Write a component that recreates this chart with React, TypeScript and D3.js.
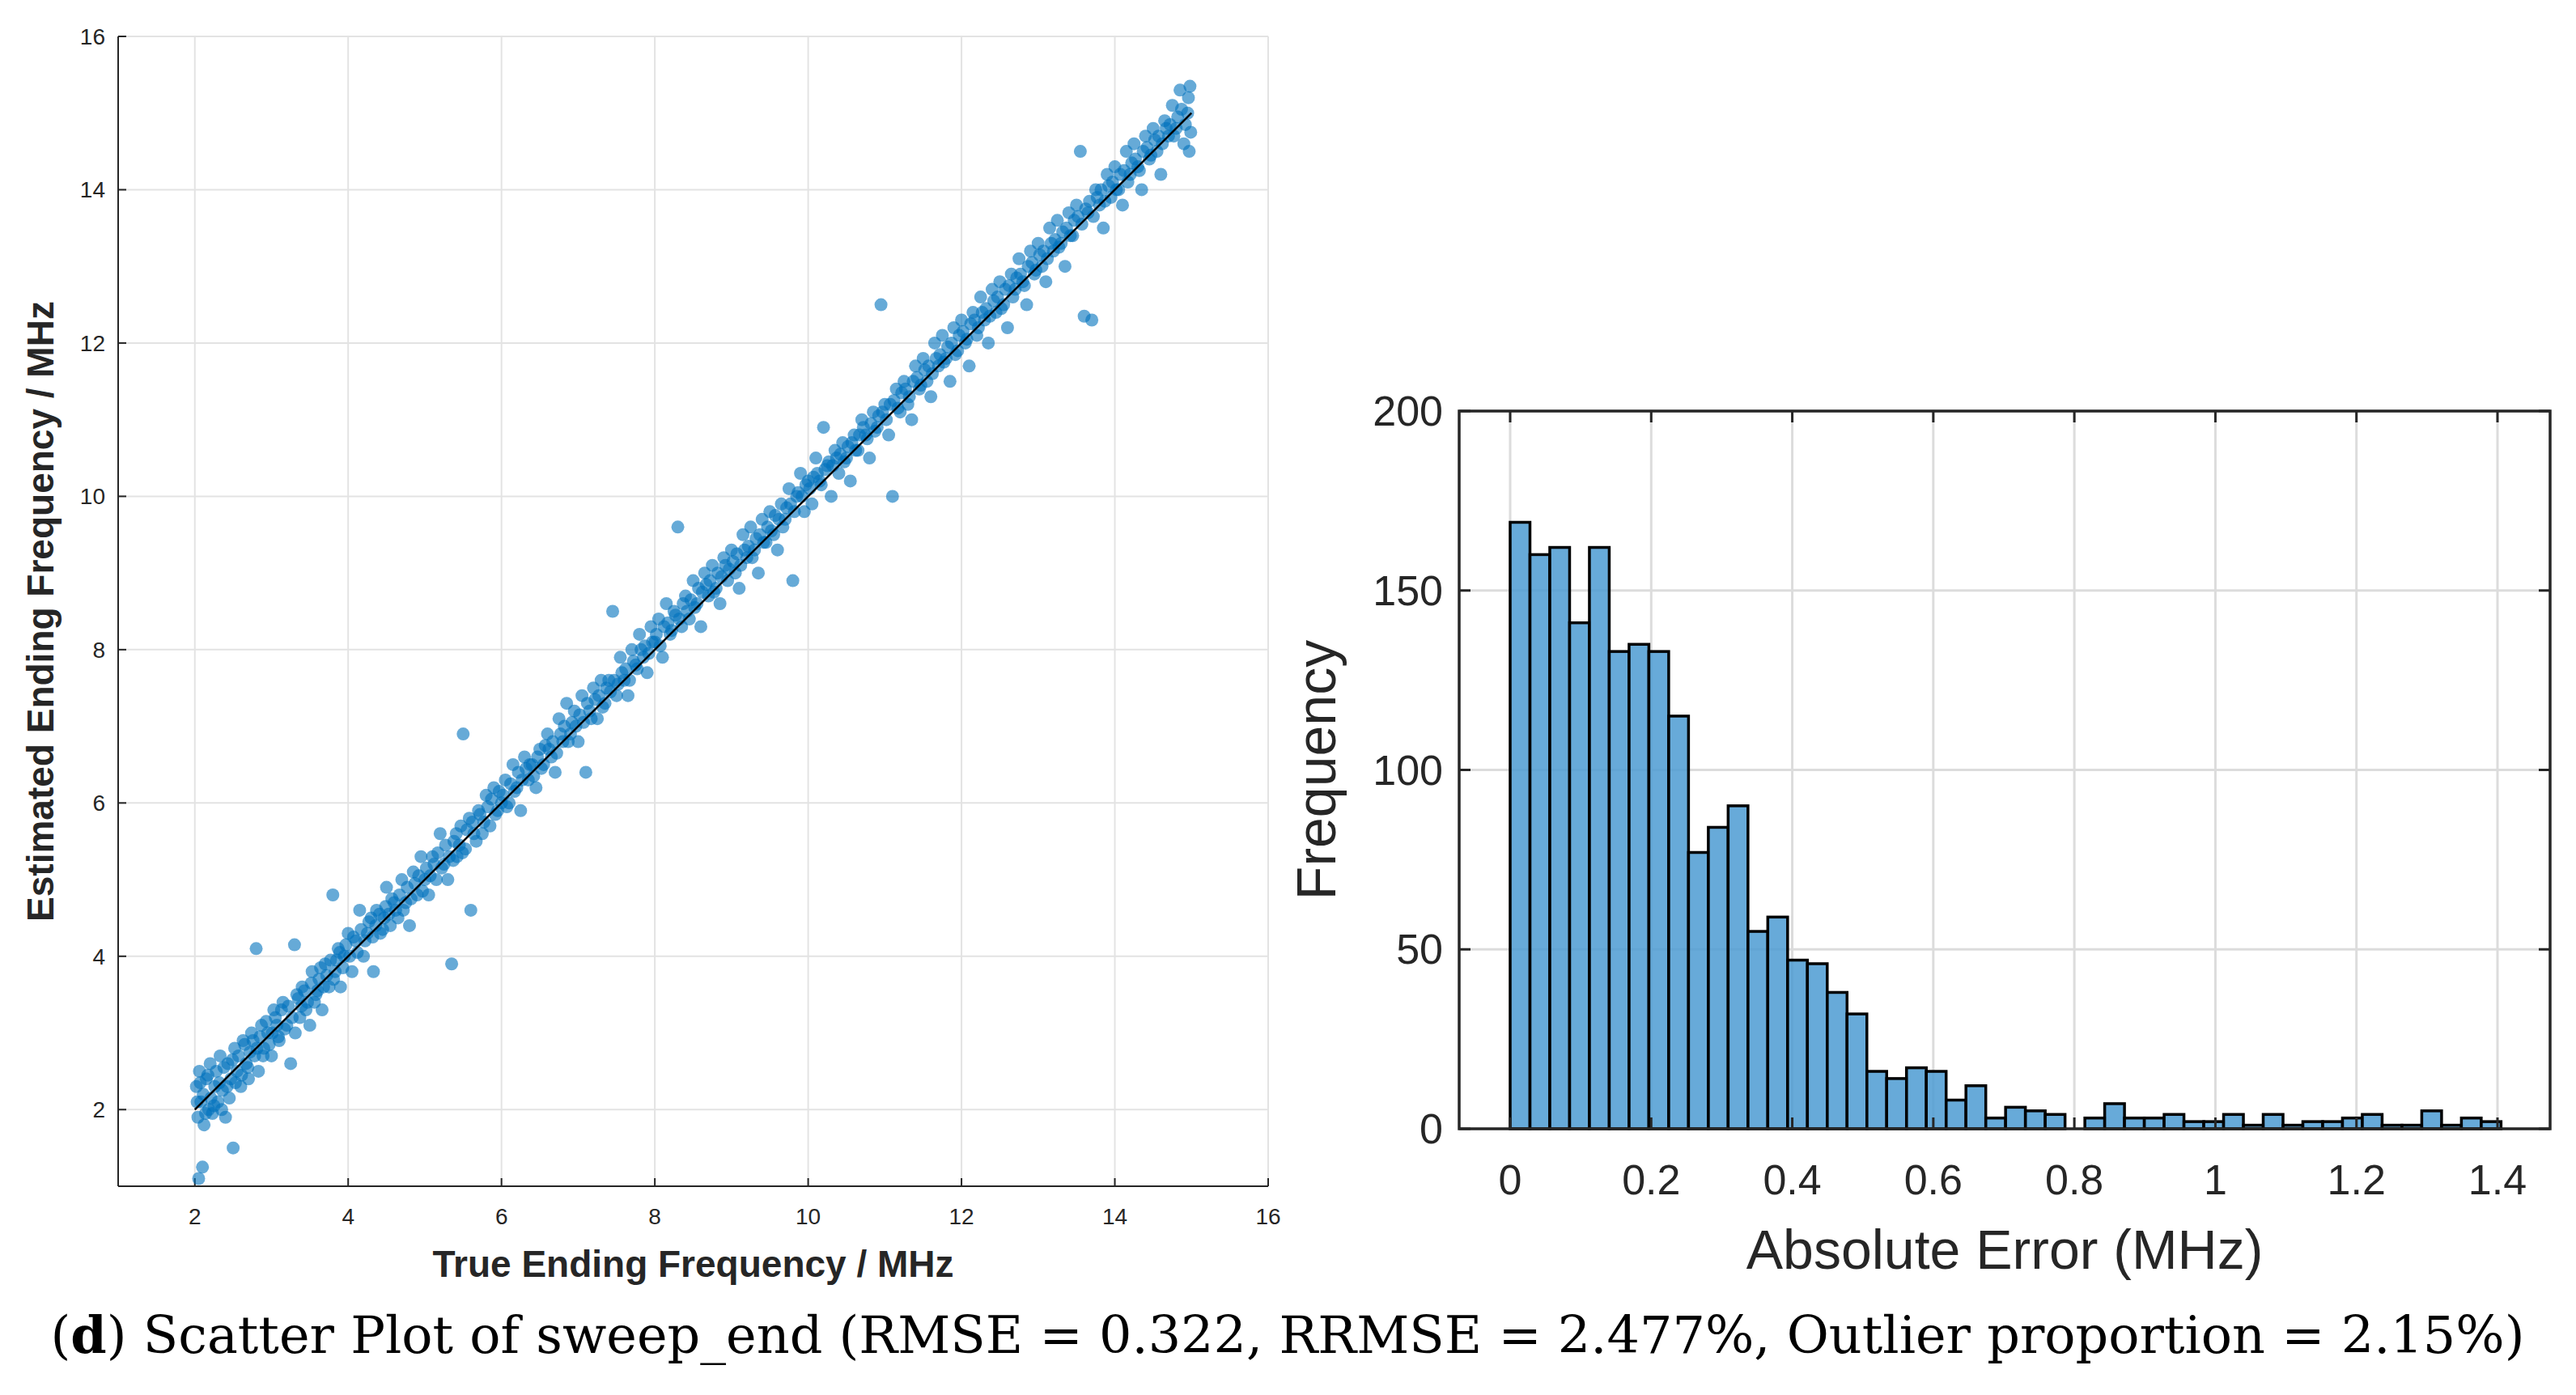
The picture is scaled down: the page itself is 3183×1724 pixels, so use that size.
import React from "react";
import * as d3 from "d3";

const scatterPts: [number, number][] = [
[2.02,2.3],[2.04,1.9],[2.05,1.1],[2.06,2.5],[2.08,2.1],[2.1,1.25],[2.12,1.8],[2.15,2.4],[2.18,2.0],[2.2,2.6],[2.23,1.95],[2.26,2.3],[2.3,2.1],[2.33,2.7],[2.36,2.25],[2.4,1.9],[2.43,2.6],[2.47,2.4],[2.5,1.5],[2.52,2.8],[2.55,2.5],[2.6,2.3],[2.63,2.9],[2.67,2.6],[2.7,2.4],[2.74,3.0],[2.78,2.7],[2.8,4.1],[2.83,2.5],[2.87,3.1],[2.9,2.8],[2.95,3.0],[3.0,2.7],[3.03,3.3],[3.07,3.1],[3.1,2.9],[3.15,3.4],[3.2,3.1],[3.25,2.6],[3.3,4.15],[3.33,3.5],[3.37,3.2],[3.4,3.6],[3.45,3.3],[3.5,3.1],[3.53,3.8],[3.58,3.5],[3.62,3.7],[3.66,3.3],[3.7,3.9],[3.75,3.6],[3.8,4.8],[3.83,3.8],[3.87,4.1],[3.9,3.6],[3.95,4.0],[4.0,4.3],[4.05,3.8],[4.1,4.2],[4.15,4.6],[4.2,4.0],[4.25,4.3],[4.3,4.5],[4.33,3.8],[4.37,4.6],[4.42,4.3],[4.47,4.5],[4.5,4.9],[4.55,4.4],[4.6,4.7],[4.65,4.5],[4.7,5.0],[4.75,4.7],[4.8,4.4],[4.85,5.1],[4.9,4.8],[4.95,5.3],[5.0,5.0],[5.05,4.8],[5.1,5.3],[5.15,5.0],[5.2,5.6],[5.25,5.2],[5.3,5.0],[5.35,3.9],[5.38,5.5],[5.42,5.3],[5.47,5.7],[5.5,6.9],[5.53,5.4],[5.58,5.8],[5.6,4.6],[5.64,5.6],[5.7,5.9],[5.75,5.6],[5.8,6.1],[5.85,5.7],[5.9,6.2],[5.95,5.9],[6.0,6.0],[6.05,6.3],[6.1,6.0],[6.15,6.5],[6.2,6.2],[6.25,5.9],[6.3,6.6],[6.35,6.3],[6.4,6.5],[6.45,6.2],[6.5,6.7],[6.55,6.5],[6.6,6.9],[6.65,6.6],[6.7,6.4],[6.75,7.1],[6.8,6.8],[6.85,7.3],[6.9,6.9],[6.95,7.2],[7.0,6.8],[7.05,7.4],[7.1,6.4],[7.15,7.2],[7.2,7.5],[7.25,7.1],[7.3,7.6],[7.35,7.3],[7.4,7.6],[7.45,8.5],[7.5,7.4],[7.55,7.9],[7.6,7.6],[7.65,7.4],[7.7,8.0],[7.75,7.8],[7.8,8.2],[7.85,7.9],[7.9,7.7],[7.95,8.3],[8.0,8.1],[8.05,8.4],[8.1,7.9],[8.15,8.6],[8.2,8.2],[8.25,8.5],[8.3,9.6],[8.35,8.3],[8.4,8.7],[8.45,8.4],[8.5,8.9],[8.55,8.6],[8.6,8.3],[8.65,9.0],[8.7,8.7],[8.75,9.1],[8.8,8.8],[8.85,8.6],[8.9,9.2],[8.95,8.9],[9.0,9.3],[9.05,9.0],[9.1,8.8],[9.15,9.5],[9.2,9.2],[9.25,9.6],[9.3,9.3],[9.35,9.0],[9.4,9.7],[9.45,9.4],[9.5,9.8],[9.55,9.5],[9.6,9.3],[9.65,9.9],[9.7,9.7],[9.75,10.1],[9.8,8.9],[9.85,10.0],[9.9,10.3],[9.95,9.8],[10.0,10.2],[10.05,9.9],[10.1,10.5],[10.15,10.2],[10.2,10.9],[10.25,10.4],[10.3,10.0],[10.35,10.6],[10.4,10.3],[10.45,10.7],[10.5,10.5],[10.55,10.2],[10.6,10.8],[10.65,10.6],[10.7,11.0],[10.75,10.8],[10.8,10.5],[10.85,11.1],[10.9,10.9],[10.95,12.5],[11.0,11.2],[11.05,10.8],[11.1,10.0],[11.15,11.4],[11.2,11.1],[11.25,11.5],[11.3,11.2],[11.35,11.0],[11.4,11.7],[11.45,11.4],[11.5,11.8],[11.55,11.5],[11.6,11.3],[11.65,12.0],[11.7,11.7],[11.75,12.1],[11.8,11.8],[11.85,11.5],[11.9,12.2],[11.95,11.9],[12.0,12.3],[12.05,12.0],[12.1,11.7],[12.15,12.4],[12.2,12.1],[12.25,12.6],[12.3,12.3],[12.35,12.0],[12.4,12.7],[12.45,12.4],[12.5,12.8],[12.55,12.5],[12.6,12.2],[12.65,12.9],[12.7,12.7],[12.75,13.1],[12.8,12.8],[12.85,12.5],[12.9,13.2],[12.95,12.9],[13.0,13.3],[13.05,13.0],[13.1,12.8],[13.15,13.5],[13.2,13.2],[13.25,13.6],[13.3,13.3],[13.35,13.0],[13.4,13.7],[13.45,13.4],[13.5,13.8],[13.55,14.5],[13.6,12.35],[13.65,13.7],[13.7,12.3],[13.75,14.0],[13.8,13.8],[13.85,13.5],[13.9,14.2],[13.95,13.9],[14.0,14.3],[14.05,14.0],[14.1,13.8],[14.15,14.5],[14.2,14.2],[14.25,14.6],[14.3,14.3],[14.35,14.0],[14.4,14.7],[14.45,14.4],[14.5,14.8],[14.55,14.5],[14.6,14.2],[14.65,14.9],[14.7,14.7],[14.75,15.1],[14.8,14.8],[14.85,15.3],[14.9,14.6],[14.95,15.0],[14.98,15.35],[14.97,14.5]
];
const scatterPts2: [number, number][] = [
[2.03,2.1],[2.07,2.35],[2.11,2.2],[2.14,1.95],[2.17,2.45],[2.21,2.15],[2.25,2.05],[2.28,2.5],[2.32,2.35],[2.35,2.0],[2.38,2.55],[2.42,2.3],[2.45,2.15],[2.49,2.65],[2.53,2.35],[2.57,2.7],[2.61,2.45],[2.65,2.85],[2.69,2.55],[2.72,2.75],[2.76,2.9],[2.81,2.8],[2.85,2.95],[2.89,2.7],[2.93,3.15],[2.97,2.85],[3.01,3.0],[3.05,3.2],[3.09,2.95],[3.13,3.3],[3.17,3.05],[3.22,3.35],[3.27,3.2],[3.31,3.0],[3.35,3.45],[3.39,3.35],[3.43,3.55],[3.47,3.4],[3.52,3.65],[3.56,3.4],[3.6,3.55],[3.64,3.85],[3.68,3.6],[3.72,3.75],[3.77,3.95],[3.81,3.7],[3.85,3.95],[3.89,4.05],[3.93,3.85],[3.97,4.15],[4.02,4.0],[4.07,4.25],[4.12,4.05],[4.17,4.35],[4.22,4.2],[4.27,4.45],[4.32,4.25],[4.36,4.4],[4.41,4.55],[4.45,4.35],[4.49,4.65],[4.53,4.55],[4.57,4.75],[4.62,4.6],[4.67,4.8],[4.72,4.6],[4.77,4.9],[4.82,4.75],[4.87,4.95],[4.92,5.05],[4.97,4.85],[5.02,5.15],[5.07,5.05],[5.12,5.2],[5.17,5.35],[5.22,5.15],[5.27,5.45],[5.32,5.3],[5.37,5.25],[5.41,5.6],[5.45,5.45],[5.49,5.35],[5.55,5.65],[5.62,5.75],[5.67,5.5],[5.72,5.85],[5.77,5.75],[5.82,5.95],[5.87,6.05],[5.92,5.85],[5.97,6.15],[6.02,6.1],[6.07,5.95],[6.12,6.25],[6.17,6.15],[6.22,6.4],[6.27,6.3],[6.32,6.45],[6.37,6.5],[6.42,6.35],[6.47,6.6],[6.52,6.45],[6.57,6.75],[6.62,6.7],[6.67,6.8],[6.72,6.65],[6.77,6.9],[6.82,7.0],[6.87,6.8],[6.92,7.05],[6.97,7.0],[7.02,7.15],[7.07,7.05],[7.12,7.3],[7.17,7.1],[7.22,7.35],[7.27,7.4],[7.32,7.25],[7.37,7.5],[7.42,7.45],[7.47,7.6],[7.52,7.55],[7.57,7.7],[7.62,7.75],[7.67,7.6],[7.72,7.85],[7.77,7.75],[7.82,8.0],[7.87,8.05],[7.92,7.95],[7.97,8.1],[8.02,8.2],[8.07,8.05],[8.12,8.3],[8.17,8.35],[8.22,8.25],[8.27,8.45],[8.32,8.4],[8.37,8.6],[8.42,8.5],[8.47,8.65],[8.52,8.55],[8.57,8.8],[8.62,8.75],[8.67,8.85],[8.72,8.9],[8.77,8.75],[8.82,9.0],[8.87,8.95],[8.92,9.1],[8.97,9.05],[9.02,9.15],[9.07,9.25],[9.12,9.1],[9.17,9.3],[9.22,9.35],[9.27,9.2],[9.32,9.45],[9.37,9.5],[9.42,9.4],[9.47,9.6],[9.52,9.55],[9.57,9.75],[9.62,9.7],[9.67,9.6],[9.72,9.85],[9.77,9.9],[9.82,9.8],[9.87,10.05],[9.92,10.0],[9.97,10.15],[10.02,10.1],[10.07,10.25],[10.12,10.3],[10.17,10.15],[10.22,10.35],[10.27,10.45],[10.32,10.4],[10.37,10.5],[10.42,10.55],[10.47,10.45],[10.52,10.65],[10.57,10.7],[10.62,10.6],[10.67,10.8],[10.72,10.9],[10.77,10.75],[10.82,10.95],[10.87,10.85],[10.92,11.05],[10.97,11.1],[11.02,11.0],[11.07,11.2],[11.12,11.25],[11.17,11.15],[11.22,11.35],[11.27,11.4],[11.32,11.3],[11.37,11.5],[11.42,11.55],[11.47,11.45],[11.52,11.65],[11.57,11.7],[11.62,11.6],[11.67,11.8],[11.72,11.85],[11.77,11.75],[11.82,11.95],[11.87,12.0],[11.92,11.85],[11.97,12.1],[12.02,12.15],[12.07,12.05],[12.12,12.25],[12.17,12.3],[12.22,12.2],[12.27,12.4],[12.32,12.45],[12.37,12.35],[12.42,12.55],[12.47,12.6],[12.52,12.45],[12.57,12.7],[12.62,12.75],[12.67,12.6],[12.72,12.85],[12.77,12.9],[12.82,12.75],[12.87,13.0],[12.92,13.05],[12.97,12.95],[13.02,13.15],[13.07,13.2],[13.12,13.1],[13.17,13.3],[13.22,13.35],[13.27,13.25],[13.32,13.45],[13.37,13.5],[13.42,13.4],[13.47,13.6],[13.52,13.65],[13.57,13.55],[13.62,13.75],[13.67,13.85],[13.72,13.65],[13.77,13.9],[13.82,14.0],[13.87,13.85],[13.92,14.05],[13.97,14.1],[14.02,14.0],[14.07,14.2],[14.12,14.25],[14.17,14.1],[14.22,14.35],[14.27,14.4],[14.32,14.25],[14.37,14.5],[14.42,14.55],[14.47,14.45],[14.52,14.65],[14.57,14.7],[14.62,14.6],[14.67,14.8],[14.72,14.85],[14.77,14.7],[14.82,14.95],[14.87,15.05],[14.92,14.85],[14.96,15.2],[14.99,14.75]
];
const scatterTicks = [2, 4, 6, 8, 10, 12, 14, 16];
const histCounts = [169,160,162,141,162,133,135,133,115,77,84,90,55,59,47,46,38,32,16,14,17,16,8,12,3,6,5,4,0,3,7,3,3,4,2,2,4,1,4,1,2,2,3,4,1,1,5,1,3,2];
const binWidth = 0.0281;
const histXTicks = [0, 0.2, 0.4, 0.6, 0.8, 1, 1.2, 1.4];
const histYTicks = [0, 50, 100, 150, 200];

export default function App() {
  const sx = d3.scaleLinear().domain([1, 16]).range([146, 1567]);
  const sy = d3.scaleLinear().domain([1, 16]).range([1466, 45]);
  const hx = d3.scaleLinear().domain([0, 1.4]).range([1866, 3086]);
  const hy = d3.scaleLinear().domain([0, 200]).range([1395, 508]);
  const hL = 1803, hR = 3151;
  const fs = "Arial, 'Liberation Sans', sans-serif";
  const allPts = scatterPts.concat(scatterPts2);
  return (
    <svg width={3183} height={1724} style={{ display: "block", position: "absolute", left: 0, top: 0 }}>
      <rect width={3183} height={1724} fill="#fff" />
      {scatterTicks.map(t => (
        <g key={"g" + t}>
          <line x1={sx(t)} x2={sx(t)} y1={45} y2={1466} stroke="#e3e3e3" strokeWidth={2} />
          <line x1={146} x2={1567} y1={sy(t)} y2={sy(t)} stroke="#e3e3e3" strokeWidth={2} />
        </g>
      ))}
      <line x1={146} x2={1567} y1={1466} y2={1466} stroke="#262626" strokeWidth={2} />
      <line x1={146} x2={146} y1={45} y2={1466} stroke="#262626" strokeWidth={2} />
      {scatterTicks.map(t => (
        <g key={"t" + t} fontFamily={fs} fontSize={28} fill="#262626">
          <line x1={sx(t)} x2={sx(t)} y1={1466} y2={1456} stroke="#262626" strokeWidth={2} />
          <line x1={146} x2={156} y1={sy(t)} y2={sy(t)} stroke="#262626" strokeWidth={2} />
          <text x={sx(t)} y={1513} textAnchor="middle">{t}</text>
          <text x={130} y={sy(t) + 10} textAnchor="end">{t}</text>
        </g>
      ))}
      {allPts.map((p, i) => (
        <circle key={i} cx={sx(p[0])} cy={sy(p[1])} r={8} fill="#0072BD" fillOpacity={0.6} />
      ))}
      <line x1={sx(2)} y1={sy(2)} x2={sx(15)} y2={sy(15)} stroke="#000" strokeWidth={2.5} />
      <text x={(146 + 1567) / 2} y={1578} textAnchor="middle" fontFamily={fs} fontWeight="bold" fontSize={46} fill="#262626">True Ending Frequency / MHz</text>
      <text transform={`translate(66,${(45 + 1466) / 2}) rotate(-90)`} textAnchor="middle" fontFamily={fs} fontWeight="bold" fontSize={46} fill="#262626">Estimated Ending Frequency / MHz</text>

      {histXTicks.map(t => (
        <line key={"hx" + t} x1={hx(t)} x2={hx(t)} y1={508} y2={1395} stroke="#dcdcdc" strokeWidth={3} />
      ))}
      {histYTicks.map(t => (
        <line key={"hy" + t} x1={hL} x2={hR} y1={hy(t)} y2={hy(t)} stroke="#dcdcdc" strokeWidth={3} />
      ))}
      {histCounts.map((c, i) => c > 0 ? (
        <rect key={"b" + i} x={hx(i * binWidth)} y={hy(c)} width={hx(binWidth) - hx(0)} height={hy(0) - hy(c)}
          fill="#4C9BD2" fillOpacity={0.85} stroke="#000" strokeWidth={3.5} />
      ) : null)}
      <rect x={hL} y={508} width={hR - hL} height={1395 - 508} fill="none" stroke="#262626" strokeWidth={3.5} />
      {histXTicks.map(t => (
        <g key={"hxt" + t}>
          <line x1={hx(t)} x2={hx(t)} y1={1395} y2={1381} stroke="#262626" strokeWidth={3} />
          <line x1={hx(t)} x2={hx(t)} y1={508} y2={522} stroke="#262626" strokeWidth={3} />
          <text x={hx(t)} y={1476} textAnchor="middle" fontFamily={fs} fontSize={52} fill="#262626">{t}</text>
        </g>
      ))}
      {histYTicks.map(t => (
        <g key={"hyt" + t}>
          <line x1={hL} x2={hL + 14} y1={hy(t)} y2={hy(t)} stroke="#262626" strokeWidth={3} />
          <line x1={hR} x2={hR - 14} y1={hy(t)} y2={hy(t)} stroke="#262626" strokeWidth={3} />
          <text x={hL - 20} y={hy(t) + 18} textAnchor="end" fontFamily={fs} fontSize={52} fill="#262626">{t}</text>
        </g>
      ))}
      <text x={(hL + hR) / 2} y={1568} textAnchor="middle" fontFamily={fs} fontSize={68} fill="#262626">Absolute Error (MHz)</text>
      <text transform={`translate(1650,${(508 + 1395) / 2}) rotate(-90)`} textAnchor="middle" fontFamily={fs} fontSize={68} fill="#262626">Frequency</text>

      <text x={1591} y={1672} textAnchor="middle" textLength={3057} lengthAdjust="spacingAndGlyphs" fontFamily="'DejaVu Serif', 'Liberation Serif', serif" fontSize={64} fill="#000">
        (<tspan fontWeight="bold">d</tspan>) Scatter Plot of sweep_end (RMSE = 0.322, RRMSE = 2.477%, Outlier proportion = 2.15%)
      </text>
    </svg>
  );
}
